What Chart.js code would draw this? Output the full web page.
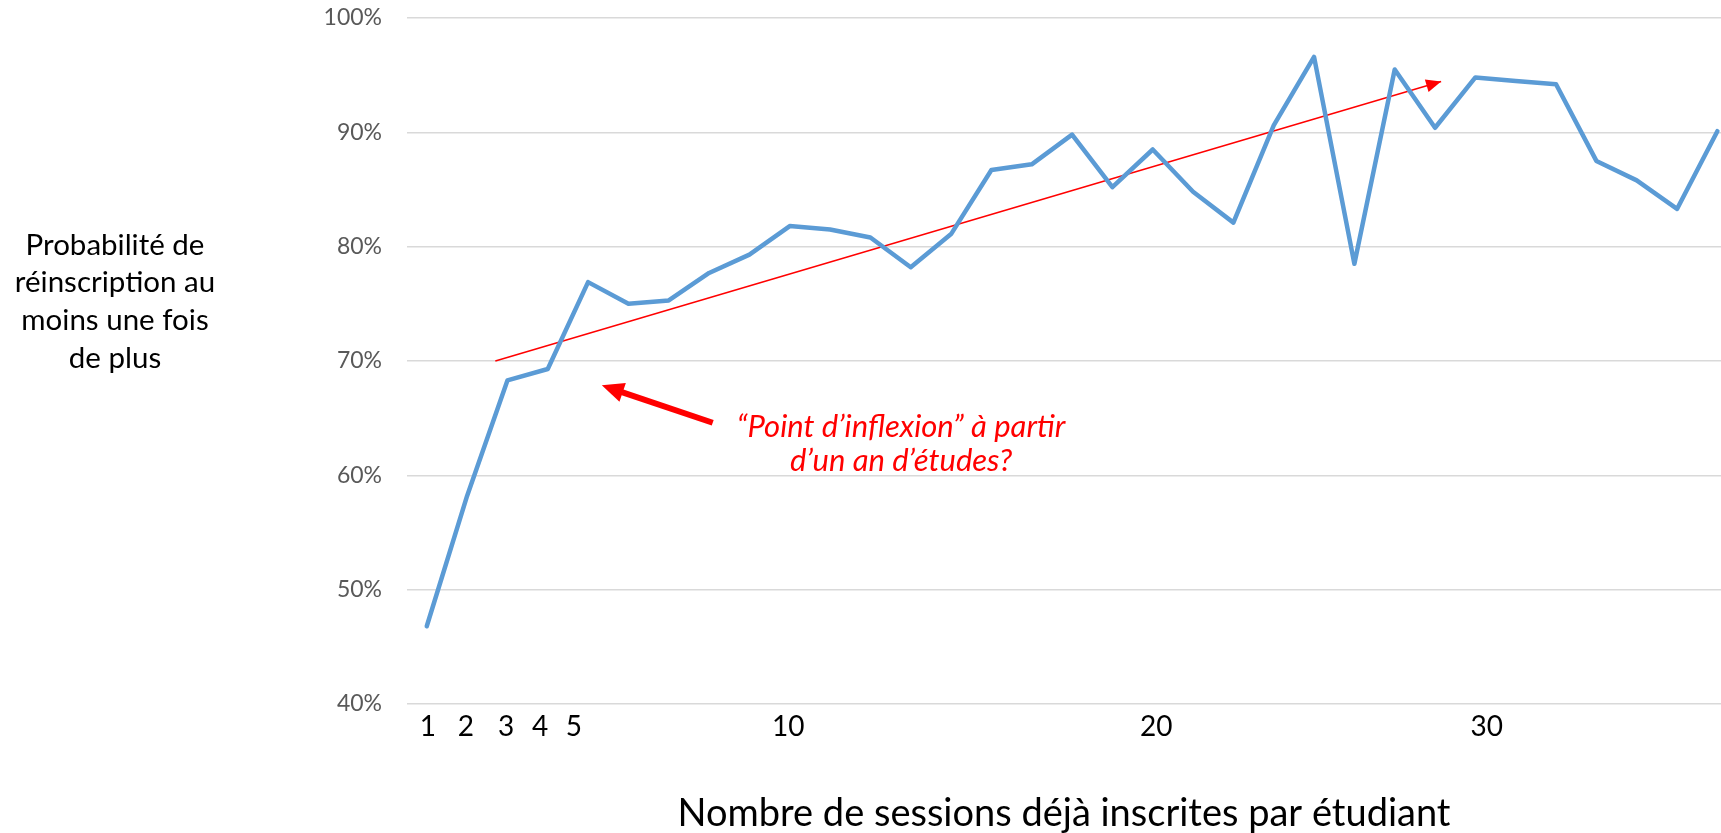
<!DOCTYPE html>
<html>
<head>
<meta charset="utf-8">
<script src="https://cdn.jsdelivr.net/npm/chart.js@4.4.0/dist/chart.umd.min.js"></script>
<style>
  body { margin: 0; background: #fff; }
  #chart { display: block; }
</style>
</head>
<body>
<canvas id="chart" width="1721" height="833"></canvas>
<script>
// sessions already enrolled (1..33) and re-enrolment probability in %
const sessions = [1, 2, 3, 4, 5, 6, 7, 8, 9, 10,
                  11, 12, 13, 14, 15, 16, 17, 18, 19, 20,
                  21, 22, 23, 24, 25, 26, 27, 28, 29, 30,
                  31, 32, 33];
const reinscription = [46.8, 58.2, 68.3, 69.3, 76.9, 75.0, 75.3, 77.7, 79.3, 81.8,
                       81.5, 80.8, 78.2, 81.1, 86.7, 87.2, 89.8, 85.2, 88.5, 84.8,
                       82.1, 90.6, 96.6, 78.5, 95.5, 90.4, 94.8, 94.5, 94.2, 87.5,
                       85.8, 83.3, 90.1];

// hand drawn trend arrow (start, end)
const trendSessions = [2.7, 26.15];
const trendValues = [70.0, 94.45];

const xTickLabels = ['1', '2', '3', '4', '5', '10', '20', '30'];
const yTitleLines = ['Probabilité de', 'réinscription au', 'moins une fois', 'de plus'];
const noteLines = ['\u201CPoint d\u2019inflexion\u201D à partir', 'd\u2019un an d\u2019études?'];

// where the x labels sit on the session axis in the picture
const xTickAt = [1.03, 1.97, 2.97, 3.81, 4.65, 9.96, 19.09, 27.28];

const ctx = document.getElementById('chart').getContext('2d');

function arrowHead(c, x0, y0, x1, y1, len, half, color) {
    const a = Math.atan2(y1 - y0, x1 - x0);
    c.save();
    c.fillStyle = color;
    c.beginPath();
    c.moveTo(x1, y1);
    c.lineTo(x1 - len * Math.cos(a) + half * Math.sin(a), y1 - len * Math.sin(a) - half * Math.cos(a));
    c.lineTo(x1 - len * Math.cos(a) - half * Math.sin(a), y1 - len * Math.sin(a) + half * Math.cos(a));
    c.closePath();
    c.fill();
    c.restore();
}

const overlay = {
    id: 'overlay',
    afterDatasetsDraw(chart) {
        const c = chart.ctx;
        const xs = chart.scales.x, ys = chart.scales.y;

        // head of the trend arrow
        const pts = chart.getDatasetMeta(1).data;
        arrowHead(c, pts[0].x, pts[0].y, pts[1].x, pts[1].y, 15, 6.5, '#ff0000');

        // big arrow pointing at the inflexion
        const tx = xs.getPixelForValue(8.09), ty = ys.getPixelForValue(64.6);
        const hx = xs.getPixelForValue(5.34), hy = ys.getPixelForValue(67.87);
        const a = Math.atan2(hy - ty, hx - tx);
        c.save();
        c.strokeStyle = '#ff0000';
        c.lineWidth = 6;
        c.beginPath();
        c.moveTo(tx, ty);
        c.lineTo(hx - 18 * Math.cos(a), hy - 18 * Math.sin(a));
        c.stroke();
        c.restore();
        arrowHead(c, tx, ty, hx, hy, 22, 10, '#ff0000');

        // note
        c.save();
        c.fillStyle = '#ff0000';
        c.font = 'italic 31px Lato';
        c.textAlign = 'center';
        c.textBaseline = 'middle';
        const nx = xs.getPixelForValue(12.76), ny = ys.getPixelForValue(64.2);
        noteLines.forEach((t, i) => c.fillText(t, nx, ny + i * 34));
        c.restore();
    },
    afterDraw(chart) {
        const c = chart.ctx;
        c.save();
        c.fillStyle = '#000';
        c.font = '29.5px Lato';
        c.textAlign = 'center';
        c.textBaseline = 'middle';
        yTitleLines.forEach((t, i) => c.fillText(t, 115, 245 + i * 37.8));
        c.restore();
    }
};

const myChart = new Chart(ctx, {
    type: 'line',
    data: {
        datasets: [{
            data: sessions.map((s, i) => ({ x: s, y: reinscription[i] })),
            borderColor: '#5b9bd5',
            borderWidth: 4.5,
            borderCapStyle: 'round',
            borderJoinStyle: 'round',
            pointRadius: 0,
            tension: 0,
            fill: false
        }, {
            data: trendSessions.map((s, i) => ({ x: s, y: trendValues[i] })),
            borderColor: '#ff0000',
            borderWidth: 1.5,
            pointRadius: 0,
            tension: 0,
            fill: false
        }]
    },
    options: {
        responsive: false,
        animation: false,
        layout: { padding: { top: 18, right: 0, bottom: 0, left: 0 } },
        plugins: {
            legend: { display: false },
            tooltip: { enabled: false }
        },
        scales: {
            x: {
                type: 'linear',
                min: 0.51,
                max: 33.09,
                afterBuildTicks: (scale) => {
                    scale.ticks = xTickAt.map(v => ({ value: v }));
                },
                afterFit: (scale) => {
                    scale.height = 129;
                    scale.paddingLeft = 0;
                    scale.paddingRight = 0;
                },
                grid: { display: false, drawTicks: false },
                border: { display: false },
                ticks: {
                    autoSkip: false,
                    maxRotation: 0,
                    padding: 6,
                    color: '#000',
                    font: { family: 'Lato', size: 28 },
                    callback: (value, index) => xTickLabels[index]
                },
                title: {
                    display: true,
                    text: 'Nombre de sessions déjà inscrites par étudiant',
                    color: '#000',
                    font: { family: 'Lato', size: 38, lineHeight: 1 },
                    padding: { top: 0, bottom: 0 }
                }
            },
            y: {
                min: 40,
                max: 100,
                afterFit: (scale) => {
                    scale.width = 407;
                    scale.paddingTop = 0;
                    scale.paddingBottom = 0;
                },
                grid: { color: '#d9d9d9', lineWidth: 1.5, drawTicks: false },
                border: { display: false },
                ticks: {
                    stepSize: 10,
                    padding: 25,
                    color: '#595959',
                    font: { family: 'Lato', size: 23 },
                    callback: (value) => value + '%'
                }
            }
        }
    },
    plugins: [overlay]
});
</script>
</body>
</html>
